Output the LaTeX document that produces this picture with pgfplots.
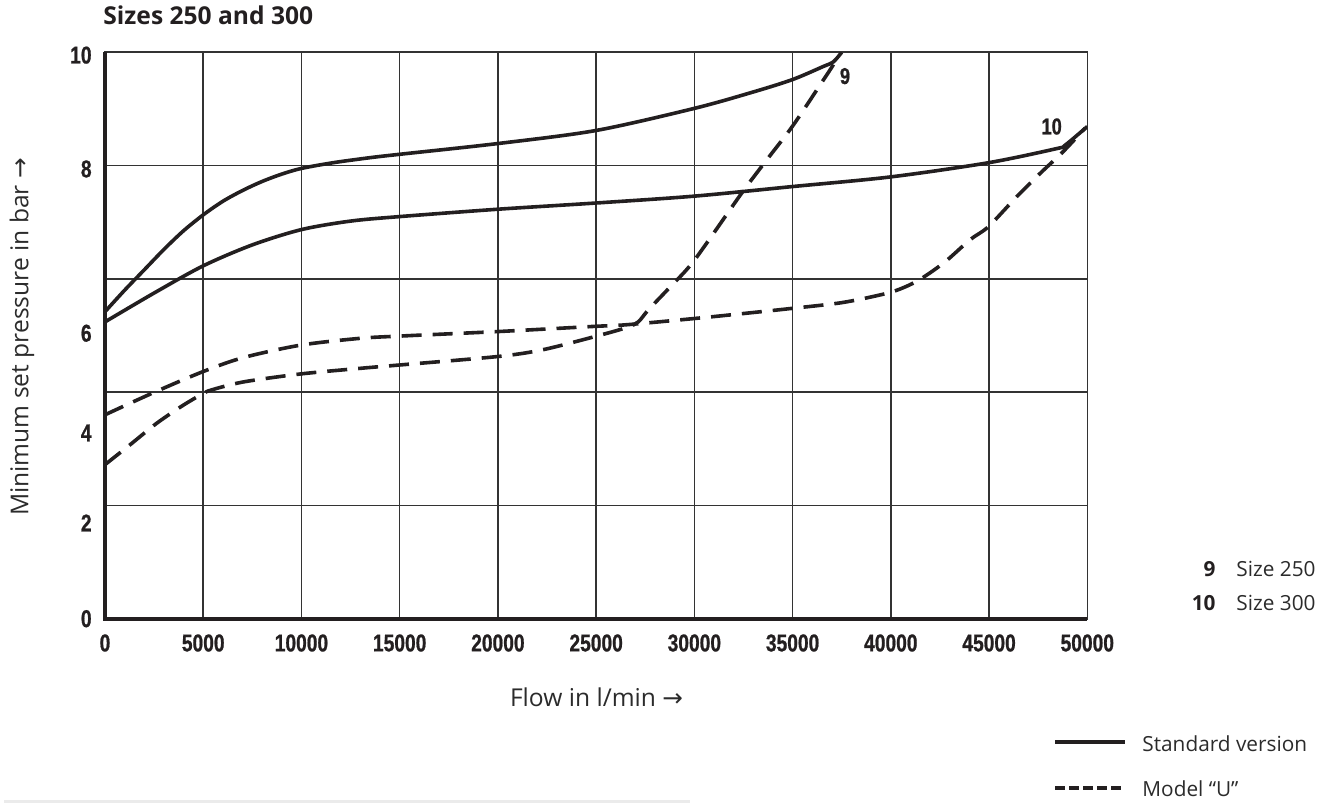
\documentclass[border=0pt]{standalone}
\usepackage{pgfplots}
\pgfplotsset{compat=1.18}
\usepackage{fontspec}
\setmainfont{Open Sans}
\newfontfamily\tickfont[FakeStretch=0.79, FakeBold=0.8]{Liberation Sans}
\newfontfamily\arrowfont{DejaVu Sans}
\definecolor{ink}{HTML}{231F20}
\definecolor{gridc}{HTML}{333333}
\definecolor{txt}{HTML}{2B2B2B}

\pgfplotstableread{
x y
0 5.42
1000 5.80
2000 6.16
3000 6.52
4000 6.85
5000 7.13
6000 7.37
7000 7.56
8000 7.72
9000 7.85
10000 7.95
11600 8.05
13500 8.14
15016 8.20
20020 8.39
25000 8.62
30000 9.01
33000 9.30
35004 9.52
36563 9.75
37071 9.83
37497 10.0
}\stdA

\pgfplotstableread{
x y
0 5.24
2500 5.75
5000 6.23
7500 6.60
10000 6.87
12500 7.02
15016 7.10
20020 7.23
25028 7.34
29980 7.46
35004 7.63
39990 7.80
44961 8.05
48441 8.30
48869 8.36
50000 8.69
}\stdB

\pgfplotstableread{
x y
0 2.72
1272 3.07
2630 3.45
3985 3.77
4970 3.97
5430 4.04
7040 4.18
9926 4.32
12980 4.42
15016 4.48
20020 4.63
22300 4.75
25028 4.99
26545 5.14
27140 5.24
27650 5.45
28772 5.86
30000 6.33
32400 7.51
33680 8.10
35004 8.70
36563 9.51
37071 9.78
37326 9.95
}\uA

\pgfplotstableread{
x y
0 3.60
2460 3.99
4970 4.36
7040 4.61
9960 4.83
12980 4.95
15016 4.99
20020 5.07
24855 5.16
26545 5.19
30000 5.30
32830 5.40
35000 5.48
37500 5.58
39500 5.72
40465 5.82
41484 5.99
42756 6.30
44028 6.69
44961 6.92
46405 7.45
47593 7.86
48780 8.25
49885 8.66
}\uB

\begin{document}
\begin{tikzpicture}
\useasboundingbox (0,0) rectangle (664pt,-401.5pt);
\begin{axis}[
  name=ax,
  scale only axis,
  width=491.15pt, height=283.2pt,
  at={(52.5pt,-309.35pt)}, anchor=south west,
  xmin=0, xmax=50000, ymin=0, ymax=10,
  scaled x ticks=false, scaled y ticks=false,
  xtick={0,5000,10000,15000,20000,25000,30000,35000,40000,45000,50000},
  xticklabels={0,5000,10000,15000,20000,25000,30000,35000,40000,45000,50000},
  ytick={0,1.69,3.28,5.04,7.94,9.95},
  yticklabels={0,2,4,6,8,10},
  extra y ticks={2,4,6,8},
  extra y tick labels={},
  extra y tick style={grid=major},
  xmajorgrids=true, ymajorgrids=false,
  major tick length=0pt,
  grid style={draw=gridc, line width=0.8pt},
  axis line style={draw=gridc, line width=0.8pt},
  tick label style={font=\tickfont\bfseries\fontsize{12.15}{14}\selectfont, text=ink},
  xticklabel style={anchor=center, inner sep=0pt, yshift=-12.15pt},
  yticklabel style={anchor=east, inner sep=0pt, xshift=-6.5pt},
  clip mode=individual,
]
\addplot[ink, line width=1.8pt, smooth, no marks] table[x=x,y=y] {\stdA};
\addplot[ink, line width=1.8pt, smooth, no marks] table[x=x,y=y] {\stdB};
\addplot[ink, line width=1.8pt, smooth, no marks, dash pattern=on 10pt off 5.5pt] table[x=x,y=y] {\uA};
\addplot[ink, line width=1.8pt, smooth, no marks, dash pattern=on 10pt off 5.5pt] table[x=x,y=y] {\uB};
\node[font=\tickfont\bfseries\fontsize{11.5}{13}\selectfont, text=ink, inner sep=0pt] at (axis cs:37666,9.58) {9};
\node[font=\tickfont\bfseries\fontsize{11.5}{13}\selectfont, text=ink, inner sep=0pt] at (axis cs:48187,8.69) {10};
\end{axis}
\draw[ink, line width=2pt, line join=miter] (ax.north west) -- (ax.south west) -- (ax.south east);

% title and axis labels
\node[anchor=base west, inner sep=0pt, font=\bfseries\fontsize{12.3}{14}\selectfont, text=ink] at (51.5pt,-12.5pt) {Sizes 250 and 300};
\node[anchor=base, inner sep=0pt, rotate=90, font=\fontsize{12.3}{14}\selectfont, text=txt] at (14.15pt,-168.5pt) {Minimum set pressure in bar {\arrowfont →}};
\node[anchor=base, inner sep=0pt, font=\fontsize{12.3}{14}\selectfont, text=txt] at (298.25pt,-353pt) {Flow in l/min {\arrowfont →}};

% size key
\node[anchor=base east, inner sep=0pt, font=\bfseries\fontsize{10.4}{12}\selectfont, text=ink] at (608pt,-288.35pt) {9};
\node[anchor=base west, inner sep=0pt, font=\fontsize{10.4}{12}\selectfont, text=txt] at (618pt,-288.35pt) {Size 250};
\node[anchor=base east, inner sep=0pt, font=\bfseries\fontsize{10.4}{12}\selectfont, text=ink] at (608pt,-305pt) {10};
\node[anchor=base west, inner sep=0pt, font=\fontsize{10.4}{12}\selectfont, text=txt] at (618pt,-305pt) {Size 300};

% line key
\draw[ink, line width=2pt] (527.5pt,-371pt) -- (562.5pt,-371pt);
\node[anchor=base west, inner sep=0pt, font=\fontsize{10.4}{12}\selectfont, text=txt] at (571pt,-375.8pt) {Standard version};
\draw[ink, line width=2pt, dash pattern=on 5pt off 2pt] (527.5pt,-394pt) -- (560.5pt,-394pt);
\node[anchor=base west, inner sep=0pt, font=\fontsize{10.4}{12}\selectfont, text=txt] at (571pt,-398.3pt) {Model “U”};

% faint rule at the bottom
\draw[black!8, line width=1.6pt] (2pt,-400.6pt) -- (345pt,-400.6pt);
\end{tikzpicture}
\end{document}
